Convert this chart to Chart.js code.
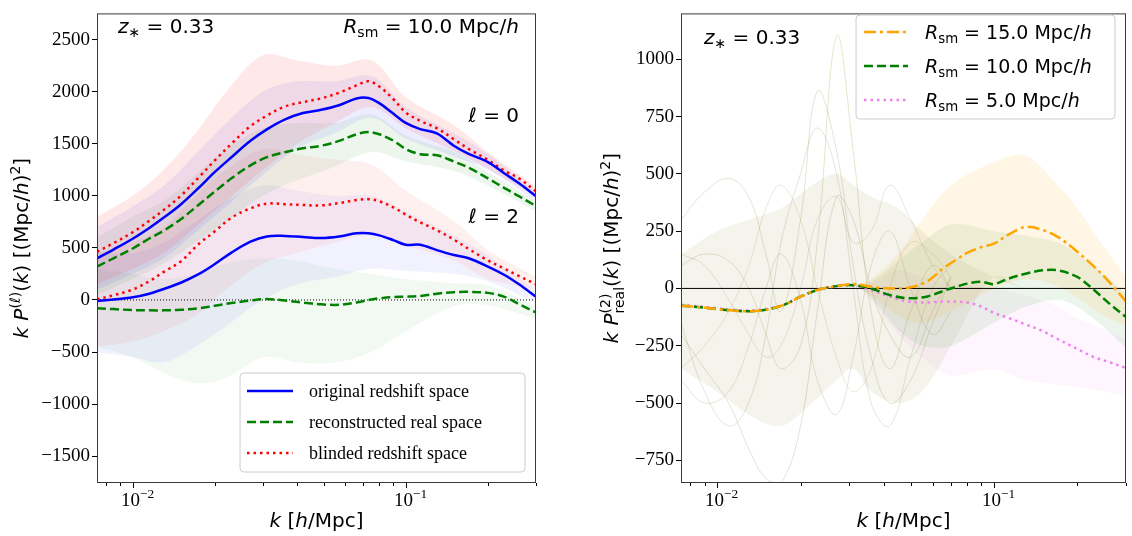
<!DOCTYPE html>
<html>
<head>
<meta charset="utf-8">
<script src="https://cdn.jsdelivr.net/npm/chart.js@4.4.1/dist/chart.umd.min.js"></script>
<style>
  html, body { margin: 0; padding: 0; background: #fff; }
  .panel { position: absolute; top: 0; height: 536px; }
</style>
</head>
<body>
<div class="panel" style="left:0;width:560px"><canvas id="left"></canvas></div>
<div class="panel" style="left:566px;width:566px"><canvas id="right"></canvas></div>
<script>
// k grid shared by the mean curves (h/Mpc)
var k = [0.0074, 0.0085, 0.010, 0.0115, 0.013, 0.015, 0.0175, 0.020, 0.023, 0.027, 0.031, 0.036, 0.042, 0.049,
         0.057, 0.066, 0.073, 0.080, 0.090, 0.100, 0.113, 0.130, 0.150, 0.170, 0.200, 0.230, 0.260, 0.300];

// left panel, monopole (l = 0)
var orig0  = [400, 484, 588, 691, 791, 917, 1080, 1230, 1371, 1528, 1638, 1732, 1795, 1826,
              1870, 1935, 1940, 1890, 1790, 1700, 1640, 1600, 1481, 1403, 1324, 1215, 1121, 996];
var blind0 = [462, 545, 650, 760, 865, 1000, 1180, 1340, 1500, 1669, 1770, 1857, 1900, 1936,
              1990, 2061, 2100, 2050, 1930, 1800, 1720, 1650, 1544, 1450, 1345, 1240, 1168, 1042];
var recon0 = [321, 400, 494, 590, 666, 776, 917, 1042, 1168, 1293, 1371, 1418, 1456, 1481,
              1528, 1591, 1613, 1591, 1530, 1450, 1400, 1390, 1330, 1270, 1168, 1074, 996, 901];
// left panel, quadrupole (l = 2)
var orig2  = [-10, 5, 25, 60, 105, 165, 250, 345, 455, 560, 610, 615, 605, 595,
              610, 640, 640, 620, 575, 530, 530, 478, 431, 400, 321, 240, 150, 30];
var blind2 = [6, 45, 100, 180, 270, 370, 540, 660, 790, 880, 925, 920, 912, 908,
              930, 960, 968, 948, 890, 820, 745, 670, 580, 490, 380, 300, 230, 150];
var recon2 = [-79, -88, -97, -100, -100, -95, -80, -55, -30, -5, 8, -5, -25, -42,
              -47, -25, 0, 15, 28, 31, 38, 60, 75, 78, 68, 30, -40, -120];

// right panel, real-space quadrupole for three smoothing scales
var rsm15 = [-76, -81, -90, -97, -100, -93, -71, -36, -7, 10, 19, 7, 0, 3,
             29, 90, 125, 155, 180, 195, 235, 268, 255, 225, 160, 95, 30, -57];
var rsm10 = [-76, -81, -90, -97, -100, -93, -71, -36, -7, 10, 14, 0, -29, -43,
             -36, -10, 7, 21, 29, 19, 43, 64, 79, 79, 50, -7, -64, -125];
var rsm5  = [-71, -78, -86, -93, -96, -90, -70, -36, -7, 10, 14, -7, -36, -57,
             -61, -57, -58, -61, -79, -107, -129, -157, -186, -221, -264, -300, -321, -347];

// spread of the individual mocks (envelopes)
var kBandL = [0.0074, 0.010, 0.013, 0.017, 0.022, 0.030, 0.040, 0.055, 0.075, 0.100, 0.150, 0.200, 0.300];
var blind0Hi = [800, 1000, 1250, 1600, 2000, 2350, 2300, 2250, 2300, 1950, 1680, 1420, 1090];
var blind0Lo = [150, 300, 450, 700, 950, 1250, 1500, 1700, 1850, 1650, 1430, 1260, 990];
var orig0Hi  = [700, 900, 1100, 1400, 1700, 2000, 2100, 2100, 2150, 1850, 1600, 1400, 1040];
var orig0Lo  = [100, 250, 400, 650, 900, 1200, 1450, 1600, 1750, 1550, 1380, 1250, 950];
var recon0Hi = [600, 800, 950, 1200, 1450, 1650, 1700, 1700, 1780, 1580, 1420, 1230, 950];
var recon0Lo = [50, 200, 350, 550, 750, 1000, 1150, 1280, 1420, 1330, 1240, 1100, 850];
var blind2Hi = [450, 550, 700, 1000, 1250, 1450, 1400, 1350, 1300, 1050, 760, 480, 220];
var blind2Lo = [-450, -400, -300, -150, 100, 350, 450, 550, 620, 520, 380, 200, 100];
var orig2Hi  = [450, 450, 550, 750, 950, 1100, 1050, 1000, 1000, 850, 620, 430, 90];
var orig2Lo  = [-500, -550, -600, -450, -250, 0, 150, 220, 300, 280, 250, 180, -30];
var recon2Hi = [300, 250, 200, 250, 350, 400, 380, 300, 250, 200, 160, 140, -60];
var recon2Lo = [-450, -550, -700, -800, -750, -550, -600, -600, -500, -300, -60, -50, -180];

var kBandR = [0.0074, 0.010, 0.013, 0.017, 0.022, 0.027, 0.031, 0.036, 0.045, 0.055, 0.070, 0.100, 0.130, 0.170, 0.200, 0.250, 0.300];
// low-k part where the three smoothings coincide
var mixHi   = [150, 250, 300, 350, 450, 500, 450, 400, 350, 250, 150, 50, 0, 0, 0, 0, 0];
var mixLo   = [-350, -450, -550, -600, -500, -400, -350, -450, -500, -450, -250, 50, 0, 0, 0, 0, 0];
var rsm15Hi = [-80, -90, -100, -60, -10, 10, 15, 40, 150, 300, 450, 550, 580, 450, 350, 180, 50];
var rsm15Lo = [-80, -90, -100, -60, -10, 10, 15, -30, -120, -150, -100, 0, 40, 10, -40, -120, -160];
var rsm10Hi = [-80, -90, -100, -60, -10, 10, 15, 30, 120, 200, 280, 250, 230, 200, 150, 60, -20];
var rsm10Lo = [-80, -90, -100, -60, -10, 10, 15, -40, -180, -250, -250, -150, -80, -50, -80, -170, -260];
var rsm5Hi  = [-80, -90, -100, -60, -10, 10, 15, 20, 80, 50, 20, 0, -30, -80, -130, -180, -220];
var rsm5Lo  = [-80, -90, -100, -60, -10, 10, 15, -50, -200, -300, -380, -350, -400, -420, -430, -450, -470];

// a few of the individual low-k mocks on the right, traced by eye
var kFaint = [0.0074, 0.009, 0.011, 0.013, 0.015, 0.017, 0.020, 0.023, 0.027, 0.031, 0.036, 0.042, 0.050, 0.060, 0.070];
var faintA = [100, 150, 120, 0, -200, -350, -250, 200, 1100, 600, -100, -350, -100, 100, 0];
var faintB = [-200, -350, -500, -700, -830, -850, -600, -100, 400, 300, 0, -200, -300, -100, 50];
var faintC = [300, 420, 480, 400, 150, -100, 300, 860, 600, 100, -300, -500, -400, -150, 50];
var faintD = [-350, -250, -100, 100, 350, 450, 300, 0, -300, -450, -350, 0, 200, 150, 50];
var faintE = [-150, -450, -600, -500, -200, 200, 500, 700, 500, 0, -500, -600, -300, 0, 100];
var faintF = [150, 100, -50, -200, -300, -250, 0, 300, 400, 200, 250, 450, 300, 100, 0];
var faintG = [-400, -500, -450, -250, 0, 150, -50, -400, -550, -300, 100, 250, 0, -200, -100];

var yTicksL = [-1500, -1000, -500, 0, 500, 1000, 1500, 2000, 2500];
var yTicksR = [-750, -500, -250, 0, 250, 500, 750, 1000];
var xMajor = [0.01, 0.1];
var xMajorLabels = ['\u22122', '\u22121'];
var xMinor = [0.008, 0.009, 0.02, 0.03, 0.04, 0.05, 0.06, 0.07, 0.08, 0.09, 0.2, 0.3];

var SANS = 'DejaVu Sans';
var SERIF = 'Liberation Serif';

function xy(xs, ys) {
  return xs.map(function (x, i) { return { x: x, y: ys[i] }; });
}

function meanLine(ys, color, dash, width) {
  return { data: xy(k, ys), borderColor: color, borderWidth: width || 2.5, borderDash: dash || [],
           pointRadius: 0, tension: 0.35, fill: false, order: 0 };
}

function band(xs, ys, fillColor) {
  return { data: xy(xs, ys), borderWidth: 0, pointRadius: 0, tension: 0.35,
           fill: fillColor ? '+1' : false, backgroundColor: fillColor, order: 10 };
}

function faint(ys, color) {
  return { data: xy(kFaint, ys), borderColor: color, borderWidth: 1, pointRadius: 0,
           tension: 0.4, fill: false, order: 8 };
}

function zeroLine(dash) {
  return { data: [{ x: 0.0074, y: 0 }, { x: 0.3, y: 0 }], borderColor: '#000', borderWidth: 1,
           borderDash: dash, pointRadius: 0, fill: false, order: 5 };
}

// draw a piece of math-like text: runs are [text, flags, stackedSub]
// flags: i = italic, p = superscript, b = subscript
function fontFor(flags, size, fam) {
  var sz = /[pb]/.test(flags) ? size * 0.7 : size;
  return (flags.indexOf('i') >= 0 ? 'italic ' : '') + sz + 'px "' + fam + '"';
}

function drawRuns(ctx, runs, x, y, size, fam, align) {
  var widths = [], total = 0;
  runs.forEach(function (r) {
    ctx.font = fontFor(r[1], size, fam);
    var w = ctx.measureText(r[0]).width;
    if (r[2]) {
      ctx.font = fontFor('b', size, fam);
      w = Math.max(w, ctx.measureText(r[2]).width);
    }
    widths.push(w);
    total += w;
  });
  var cx = align === 'center' ? x - total / 2 : (align === 'right' ? x - total : x);
  runs.forEach(function (r, i) {
    var dy = 0;
    if (r[1].indexOf('p') >= 0) dy = -size * 0.42;
    if (r[1].indexOf('b') >= 0) dy = size * 0.22;
    ctx.font = fontFor(r[1], size, fam);
    ctx.fillText(r[0], cx, y + dy);
    if (r[2]) {
      ctx.font = fontFor('b', size, fam);
      ctx.fillText(r[2], cx, y + size * 0.3);
    }
    cx += widths[i];
  });
}

function legendBox(ctx, x, y, w, h) {
  ctx.save();
  ctx.beginPath();
  ctx.roundRect(x, y, w, h, 4);
  ctx.fillStyle = 'rgba(255,255,255,0.8)';
  ctx.fill();
  ctx.strokeStyle = '#cccccc';
  ctx.lineWidth = 1;
  ctx.stroke();
  ctx.restore();
}

function legendSample(ctx, x0, x1, y, color, dash) {
  ctx.save();
  ctx.strokeStyle = color;
  ctx.lineWidth = 2.5;
  ctx.setLineDash(dash);
  ctx.beginPath();
  ctx.moveTo(x0, y);
  ctx.lineTo(x1, y);
  ctx.stroke();
  ctx.restore();
}

// frame, log ticks, axis titles and text drawn by hand
function decorations(opts) {
  return {
    id: 'decor',
    afterDraw: function (chart) {
      var ctx = chart.ctx, a = chart.chartArea, xs = chart.scales.x;
      ctx.save();
      ctx.strokeStyle = '#3a3a3a';
      ctx.lineWidth = 1;
      ctx.strokeRect(a.left + 0.5, a.top + 0.5, a.right - a.left - 1, a.bottom - a.top - 1);

      ctx.strokeStyle = '#000';
      ctx.fillStyle = '#000';
      ctx.textBaseline = 'alphabetic';
      xMajor.forEach(function (v, i) {
        var px = Math.round(xs.getPixelForValue(v)) + 0.5;
        ctx.beginPath(); ctx.moveTo(px, a.bottom); ctx.lineTo(px, a.bottom + 5); ctx.stroke();
        drawRuns(ctx, [['10', ''], [xMajorLabels[i], 'p']], px + 4, a.bottom + 23, 19, SERIF, 'center');
      });
      xMinor.forEach(function (v) {
        var px = Math.round(xs.getPixelForValue(v)) + 0.5;
        ctx.beginPath(); ctx.moveTo(px, a.bottom); ctx.lineTo(px, a.bottom + 3); ctx.stroke();
      });

      var cxMid = (a.left + a.right) / 2;
      drawRuns(ctx, [['k', 'i'], [' [', ''], ['h', 'i'], ['/Mpc]', '']], cxMid, 527, 20, SANS, 'center');

      ctx.save();
      ctx.translate(opts.yTitleX, (a.top + a.bottom) / 2);
      ctx.rotate(-Math.PI / 2);
      drawRuns(ctx, opts.yTitle, 0, 0, 20, SANS, 'center');
      ctx.restore();

      opts.extra(ctx, a);
      ctx.restore();
    }
  };
}

function baseOptions(yMin, yMax, yTicks, yWidth, padRight) {
  return {
    responsive: true,
    maintainAspectRatio: false,
    animation: false,
    layout: { padding: { top: 5, right: padRight, left: 0, bottom: 0 } },
    plugins: { legend: { display: false }, tooltip: { enabled: false } },
    scales: {
      x: {
        type: 'logarithmic', min: 0.0074, max: 0.3,
        grid: { display: false }, border: { display: false },
        ticks: { display: false },
        afterFit: function (s) { s.height = 53; }
      },
      y: {
        min: yMin, max: yMax,
        grid: { drawOnChartArea: false, drawTicks: true, tickLength: 5, color: '#000' },
        border: { display: false },
        ticks: {
          padding: 2, color: '#000',
          font: { family: SERIF, size: 19 },
          callback: function (v) { return String(v).replace('-', '\u2212'); }
        },
        afterBuildTicks: function (s) { s.ticks = yTicks.map(function (v) { return { value: v }; }); },
        afterFit: function (s) { s.width = yWidth; }
      }
    }
  };
}

var leftData = [
  meanLine(orig0, '#0000ff'),
  meanLine(recon0, '#008000', [9, 4]),
  meanLine(blind0, '#ff0000', [2.5, 4]),
  meanLine(orig2, '#0000ff'),
  meanLine(recon2, '#008000', [9, 4]),
  meanLine(blind2, '#ff0000', [2.5, 4]),
  zeroLine([1, 2]),
  band(kBandL, blind0Hi, 'rgba(255,0,0,0.09)'), band(kBandL, blind0Lo),
  band(kBandL, orig0Hi, 'rgba(0,0,255,0.07)'), band(kBandL, orig0Lo),
  band(kBandL, recon0Hi, 'rgba(0,128,0,0.07)'), band(kBandL, recon0Lo),
  band(kBandL, blind2Hi, 'rgba(255,0,0,0.06)'), band(kBandL, blind2Lo),
  band(kBandL, orig2Hi, 'rgba(0,0,255,0.05)'), band(kBandL, orig2Lo),
  band(kBandL, recon2Hi, 'rgba(0,128,0,0.05)'), band(kBandL, recon2Lo)
];

new Chart(document.getElementById('left'), {
  type: 'line',
  data: { datasets: leftData },
  options: baseOptions(-1758, 2752, yTicksL, 97, 24),
  plugins: [decorations({
    yTitleX: 28,
    yTitle: [['k', 'i'], [' ', ''], ['P', 'i'], ['(\u2113)', 'p'], ['(', ''], ['k', 'i'], [') [(Mpc/', ''], ['h', 'i'], [')', ''], ['2', 'p'], [']', '']],
    extra: function (ctx, a) {
      drawRuns(ctx, [['z', 'i'], ['\u2217', 'b'], [' = 0.33', '']], 118, 33, 20, SANS, 'left');
      drawRuns(ctx, [['R', 'i'], ['sm', 'b'], [' = 10.0 Mpc/', ''], ['h', 'i']], 519, 33, 20, SANS, 'right');
      drawRuns(ctx, [['\u2113 = 0', '']], 519, 122, 20, SANS, 'right');
      drawRuns(ctx, [['\u2113 = 2', '']], 519, 223, 20, SANS, 'right');

      legendBox(ctx, 240, 373, 285, 99);
      var rows = [['original redshift space', '#0000ff', []],
                  ['reconstructed real space', '#008000', [9, 4]],
                  ['blinded redshift space', '#ff0000', [2.5, 4]]];
      rows.forEach(function (r, i) {
        var y = 391 + i * 31;
        legendSample(ctx, 247, 293, y, r[1], r[2]);
        ctx.fillStyle = '#000';
        ctx.textBaseline = 'middle';
        ctx.font = '18px "' + SERIF + '"';
        ctx.fillText(r[0], 309, y + 1);
      });
      ctx.textBaseline = 'alphabetic';
    }
  })]
});

var rightData = [
  meanLine(rsm15, '#ffa500', [12, 4, 3, 4]),
  meanLine(rsm10, '#008000', [9, 4]),
  meanLine(rsm5, '#ee82ee', [2.5, 4]),
  zeroLine([]),
  band(kBandR, mixHi, 'rgba(150,140,70,0.10)'), band(kBandR, mixLo),
  band(kBandR, rsm15Hi, 'rgba(255,165,0,0.10)'), band(kBandR, rsm15Lo),
  band(kBandR, rsm10Hi, 'rgba(0,128,0,0.08)'), band(kBandR, rsm10Lo),
  band(kBandR, rsm5Hi, 'rgba(238,130,238,0.08)'), band(kBandR, rsm5Lo),
  faint(faintA, 'rgba(128,128,0,0.2)'),
  faint(faintB, 'rgba(128,110,40,0.2)'),
  faint(faintC, 'rgba(110,128,40,0.2)'),
  faint(faintD, 'rgba(160,120,40,0.18)'),
  faint(faintE, 'rgba(100,120,60,0.18)'),
  faint(faintF, 'rgba(140,120,60,0.18)'),
  faint(faintG, 'rgba(120,110,50,0.18)')
];

new Chart(document.getElementById('right'), {
  type: 'line',
  data: { datasets: rightData },
  options: baseOptions(-849, 1200, yTicksR, 115, 6),
  plugins: [decorations({
    yTitleX: 52,
    yTitle: [['k', 'i'], [' ', ''], ['P', 'i'], ['(2)', 'p', 'real'], ['(', ''], ['k', 'i'], [') [(Mpc/', ''], ['h', 'i'], [')', ''], ['2', 'p'], [']', '']],
    extra: function (ctx, a) {
      drawRuns(ctx, [['z', 'i'], ['\u2217', 'b'], [' = 0.33', '']], 138, 44, 20, SANS, 'left');
      legendBox(ctx, 290, 15, 259, 104);
      var rows = [['15.0', '#ffa500', [12, 4, 3, 4]],
                  ['10.0', '#008000', [9, 4]],
                  ['5.0', '#ee82ee', [2.5, 4]]];
      rows.forEach(function (r, i) {
        var y = 32 + i * 34;
        legendSample(ctx, 298, 342, y, r[1], r[2]);
        ctx.fillStyle = '#000';
        drawRuns(ctx, [['R', 'i'], ['sm', 'b'], [' = ' + r[0] + ' Mpc/', ''], ['h', 'i']], 359, y + 7, 19, SANS, 'left');
      });
    }
  })]
});
</script>
</body>
</html>
